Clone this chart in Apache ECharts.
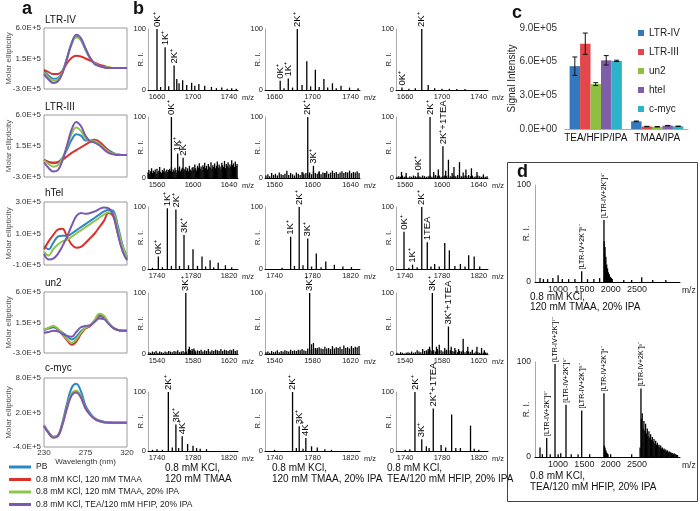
<!DOCTYPE html>
<html>
<head>
<meta charset="utf-8">
<script src="https://cdn.jsdelivr.net/npm/echarts@6/dist/echarts.min.js"></script>
<style>
  html, body { margin: 0; padding: 0; background: #fff; }
  #chart { width: 700px; height: 511px; }
</style>
</head>
<body>
<div id="chart"></div>
<script>
const FONT = "'Liberation Sans', Arial, sans-serif";

// ---------- a: CD spectra, molar ellipticity in units of 1E+5
const wavelengths = [230, 235, 240, 245, 250, 255, 260, 265, 270, 275, 280, 285, 290, 295, 300, 305, 310, 315, 320];
const cdConditions = ["PB", "0.8 mM KCl, 120 mM TMAA", "0.8 mM KCl, 120 mM TMAA, 20% IPA", "0.8 mM KCl, TEA/120 mM HFIP, 20% IPA"];
const cdColors = ["#2b87c6", "#d9322c", "#8cc64c", "#7c57b1"];
const cdTitles = ["LTR-IV", "LTR-III", "hTel", "un2", "c-myc"];
const cdYTicks = [[-3, 1.5, 6], [-3, 1.5, 6], [-1, 1, 3], [-3, 1.5, 6], [-4, 2, 8]];

// order: PB, TMAA, TMAA+IPA, HFIP
const cdLtr4 = [
  [-0.4, -1.0, -1.5, -1.4, -0.4, 1.6, 3.7, 4.7, 4.2, 2.8, 1.5, 0.7, 0.4, 0.2, 0.1, 0.1, 0.1, 0.1, 0.1],
  [-0.2, -0.5, -0.8, -0.8, -0.3, 0.8, 1.6, 1.9, 1.8, 1.5, 1.2, 0.9, 0.6, 0.4, 0.2, 0.1, 0.1, 0.1, 0.1],
  [-0.6, -1.3, -1.8, -1.6, -0.5, 1.5, 3.6, 4.6, 4.3, 2.9, 1.6, 0.8, 0.4, 0.2, 0.2, 0.1, 0.1, 0.1, 0.1],
  [-0.8, -1.6, -2.1, -1.9, -0.7, 1.5, 3.8, 5.0, 4.5, 3.0, 1.6, 0.7, 0.4, 0.2, 0.1, 0.1, 0.1, 0.1, 0.1]
];
const cdLtr3 = [
  [-0.5, -0.8, -1.0, -0.9, -0.2, 1.0, 2.4, 3.2, 3.0, 2.3, 2.3, 2.4, 2.0, 1.4, 0.9, 0.5, 0.3, 0.2, 0.2],
  [-0.5, -0.8, -0.9, -0.8, -0.5, 0.0, 0.5, 0.9, 1.3, 1.7, 2.1, 2.4, 2.1, 1.5, 0.8, 0.4, 0.2, 0.2, 0.2],
  [-0.6, -1.1, -1.5, -1.3, -0.3, 1.4, 3.3, 4.2, 3.7, 2.6, 2.2, 2.2, 1.8, 1.2, 0.7, 0.4, 0.3, 0.2, 0.2],
  [-0.9, -1.7, -2.2, -2.0, -0.6, 1.6, 3.9, 5.0, 4.4, 3.0, 2.2, 2.0, 1.6, 1.0, 0.5, 0.3, 0.2, 0.2, 0.2]
];
const cdHtel = [
  [0.2, 0.0, 0.4, 0.8, 0.85, 0.85, 1.0, 1.2, 1.4, 1.6, 1.8, 2.0, 2.2, 2.4, 2.5, 2.45, 1.5, 0.3, -0.5],
  [0.0, 0.5, 0.9, 1.25, 1.3, 0.8, 0.3, 0.1, 0.15, 0.4, 0.7, 1.0, 1.4, 1.8, 2.3, 2.1, 1.0, 0.0, -0.6],
  [-0.15, -0.4, 0.0, 0.3, 0.5, 0.6, 0.8, 1.0, 1.2, 1.4, 1.6, 1.8, 2.0, 2.2, 2.35, 2.3, 1.3, 0.2, -0.5],
  [-0.3, -0.65, -0.6, -0.3, 0.2, 0.8, 1.5, 2.1, 2.3, 2.25, 2.3, 2.4, 2.55, 2.65, 2.6, 2.2, 1.0, -0.1, -0.7]
];
const cdUn2 = [
  [0.4, 0.6, 0.8, 0.5, 0.0, -0.5, -1.0, -0.6, 0.2, 0.7, 1.0, 1.7, 2.4, 2.2, 1.4, 0.7, 0.4, 0.3, 0.3],
  [0.4, 0.7, 0.9, 0.5, -0.3, -1.1, -1.8, -1.3, -0.2, 0.6, 1.0, 1.8, 2.6, 2.4, 1.4, 0.7, 0.4, 0.3, 0.3],
  [0.4, 0.7, 1.0, 0.6, -0.2, -0.9, -1.5, -1.0, 0.0, 0.7, 1.1, 1.9, 2.8, 2.5, 1.5, 0.7, 0.4, 0.3, 0.3],
  [0.0, 0.1, 0.3, 0.2, -0.2, -0.5, -0.6, 0.1, 0.8, 1.0, 1.1, 1.6, 2.1, 2.0, 1.3, 0.7, 0.4, 0.3, 0.3]
];
const cdMyc = [
  [-0.2, -1.4, -2.2, -2.0, 0.3, 3.6, 6.3, 7.0, 5.7, 3.2, 1.9, 1.0, 0.6, 0.4, 0.3, 0.2, 0.2, 0.2, 0.2],
  [-0.3, -1.5, -2.3, -2.1, 0.0, 2.9, 5.1, 5.7, 4.8, 2.8, 1.7, 0.9, 0.5, 0.3, 0.3, 0.2, 0.2, 0.2, 0.2],
  [-0.3, -1.5, -2.3, -2.0, 0.1, 3.0, 5.3, 5.8, 4.8, 2.8, 1.7, 0.9, 0.5, 0.3, 0.3, 0.2, 0.2, 0.2, 0.2],
  [-0.4, -1.6, -2.4, -2.1, -0.1, 2.8, 5.0, 5.5, 4.6, 2.7, 1.6, 0.9, 0.5, 0.3, 0.2, 0.2, 0.2, 0.2, 0.2]
];

// ---------- b: mass spectra, [m/z, relative intensity, label]
const rowRanges = [[1650, 1750], [1550, 1650], [1730, 1830], [1530, 1630], [1730, 1830]];
const rowTicks = [[1660, 1700, 1740], [1560, 1600, 1640], [1740, 1780, 1820], [1540, 1580, 1620], [1740, 1780, 1820]];
const colCaptions = [["0.8 mM KCl,", "120 mM TMAA"], ["0.8 mM KCl,", "120 mM TMAA, 20% IPA"], ["0.8 mM KCl,", "TEA/120 mM HFIP, 20% IPA"]];

const msLtr4Tmaa = [[1660, 100, "0K⁺"], [1669, 70, "1K⁺"], [1679, 40, "2K⁺"], [1664, 5], [1673, 6], [1682, 18], [1684.5, 11], [1688.5, 16], [1693, 8], [1698.5, 12], [1702, 7], [1706.5, 10], [1713, 7], [1720.5, 5], [1726, 3], [1732, 4], [1738, 2], [1743, 3], [1748, 2]];
const msLtr4TmaaIpa = [[1666, 15, "0K⁺"], [1674.5, 19, "1K⁺"], [1684, 100, "2K⁺"], [1670, 3], [1679, 4], [1689, 8], [1694, 47], [1698, 6], [1703, 33], [1707, 5], [1712, 18], [1716, 4], [1721, 11], [1725, 3], [1730, 7], [1739, 4], [1748, 3]];
const msLtr4Hfip = [[1656.5, 4, "0K⁺"], [1678, 100, "2K⁺"], [1664, 2], [1671, 3], [1685, 8], [1692, 3], [1700, 2], [1708, 2], [1716, 1.5], [1725, 1.5]];

const msLtr3Tmaa = [[1576, 100, "0K⁺"], [1583, 40, "1K⁺"], [1589, 33, "2K⁺"]];
const msLtr3TmaaIpa = [[1595, 100, "2K⁺"], [1601, 20, "3K⁺"], [1590, 9], [1607, 11], [1613, 8]];
const msLtr3Hfip = [[1556, 10], [1561, 8], [1574, 9, "0K⁺"], [1587, 100, "2K⁺"], [1591, 10], [1596, 14], [1601, 52, "2K⁺+1TEA"], [1604, 12], [1607, 30], [1611, 8], [1613, 18], [1619, 26], [1623, 9], [1626, 14], [1632, 16], [1638, 10], [1645, 6]];

const msHtelTmaa = [[1741.5, 20, "0K⁺"], [1751.5, 98, "1K⁺"], [1761, 96, "2K⁺"], [1770, 55, "3K⁺"], [1780, 32], [1790, 20], [1799, 14], [1808, 10], [1816, 6], [1823, 3], [1746, 3], [1756, 5], [1765, 5], [1775, 6], [1785, 5], [1794, 4], [1803, 3], [1735, 2]];
const msHtelTmaaIpa = [[1757, 52, "1K⁺"], [1766, 100, "2K⁺"], [1775, 49, "3K⁺"], [1784, 25], [1794, 12], [1803, 7], [1812, 4], [1821, 3], [1748, 2], [1761, 5], [1770, 6], [1779, 4], [1789, 3]];
const msHtelHfip = [[1738.7, 60, "0K⁺"], [1748, 7, "1K⁺"], [1758, 100, "2K⁺"], [1764, 43, "1TEA"], [1753, 3], [1768, 4], [1772, 8], [1777, 4], [1783, 42], [1788, 30], [1794, 5], [1800, 8], [1805, 4], [1809, 22], [1815, 20], [1821, 4], [1744, 2]];

const msUn2Tmaa = [[1572, 100, "3K⁺"], [1576, 12], [1579, 8], [1582, 6]];
const msUn2TmaaIpa = [[1577, 100, "3K⁺"], [1581, 18], [1585, 10]];
const msUn2Hfip = [[1569.5, 100, "3K⁺"], [1587, 45, "3K⁺+1TEA"], [1565, 8], [1566.5, 12], [1574, 12], [1577, 15], [1583, 10], [1590, 12], [1594, 10], [1598, 8], [1603, 25], [1608, 12], [1613, 7], [1618, 12], [1623, 10], [1626, 6]];

const msMycTmaa = [[1752.6, 100, "2K⁺"], [1761, 45, "3K⁺"], [1768, 25, "4K⁺"], [1774, 12], [1780, 9], [1784, 5], [1788, 4], [1795, 3], [1757, 6], [1764, 5], [1740, 3], [1746, 2], [1735, 2]];
const msMycTmaaIpa = [[1759, 100, "2K⁺"], [1766, 42, "3K⁺"], [1773, 22, "4K⁺"], [1779, 8], [1785, 6], [1793, 3], [1763, 5], [1770, 4], [1800, 2], [1740, 2]];
const msMycHfip = [[1750.6, 100, "2K⁺"], [1758, 20, "3K⁺"], [1770.5, 72, "2K⁺+1TEA"], [1763, 8], [1766, 5], [1779, 10], [1784, 6], [1790.5, 62], [1795, 5], [1800, 5], [1811, 43], [1815, 4], [1745, 3], [1740, 2], [1820, 2]];

// baseline noise, regularly sampled spectra
const noiseLtr3Tmaa = { start: 1550, step: 1, h: [
  9, 13, 7, 11, 16, 8, 12, 10, 14, 7, 15, 9, 12, 18, 10, 8, 13, 11, 16, 9, 12, 14, 10, 13,
  15, 12, 18, 10, 14, 11, 17, 13, 9, 16, 12, 19, 11, 14, 17, 10, 15, 13, 18, 12, 16, 11, 20, 14, 12, 17,
  18, 14, 22, 16, 12, 20, 17, 24, 15, 19, 13, 21, 18, 25, 16, 20, 14, 23, 19, 17, 26, 15, 21, 18, 24,
  16, 20, 27, 17, 22, 19, 15, 25, 21, 18, 28, 16, 23, 20, 26, 17, 22, 19, 29, 21, 24, 18, 27, 20, 23] };
const noiseLtr3TmaaIpa = { start: 1551, step: 2, h: [4, 6, 3, 8, 5, 7, 4, 9, 6, 5, 7, 12, 5, 8, 6, 4, 9, 7, 5, 10, 6, 8, 7, 9, 6, 11, 8, 7, 10, 6, 9, 8, 11, 7, 9, 12, 8, 10, 7, 9, 11, 8, 10, 9, 12, 8, 10, 9, 11, 8] };
const noiseLtr3Hfip = { start: 1551, step: 2, h: [2, 3, 2, 4, 2, 3, 1, 3, 2, 4, 3, 2, 3, 2, 4, 3, 2, 3, 4, 2, 3, 5, 3, 4, 2, 3, 4, 3, 5, 3, 2, 4, 3, 5, 4, 3, 2, 4, 3, 5, 3, 4, 2, 3, 4, 3, 2, 3, 2, 3] };
const noiseUn2Tmaa = { start: 1531, step: 2, h: [3, 2, 4, 3, 5, 2, 4, 3, 2, 4, 3, 5, 4, 3, 5, 4, 6, 3, 4, 5, 3, 4, 8, 6, 5, 9, 4, 6, 5, 7, 4, 6, 5, 8, 4, 6, 5, 7, 6, 5, 8, 5, 7, 6, 5, 7, 6, 8, 5, 6] };
const noiseUn2TmaaIpa = { start: 1531, step: 2, h: [3, 4, 2, 5, 3, 4, 6, 3, 5, 4, 6, 5, 4, 7, 5, 6, 5, 7, 6, 8, 6, 5, 9, 7, 16, 8, 10, 7, 11, 9, 8, 12, 9, 10, 8, 13, 9, 11, 10, 12, 8, 14, 10, 11, 9, 13, 10, 12, 11, 13] };
const noiseUn2Hfip = { start: 1531, step: 2, h: [2, 1, 3, 2, 1, 2, 3, 2, 4, 2, 3, 6, 4, 3, 8, 5, 6, 4, 7, 5, 6, 4, 8, 5, 6, 4, 5, 7, 4, 6, 5, 4, 6, 3, 5, 4, 6, 3, 5, 4, 3, 5, 2, 4, 3, 2, 3, 2, 3, 2] };

// ---------- c: signal intensity
const solventGroups = ["TEA/HFIP/IPA", "TMAA/IPA"];
const sequences = ["LTR-IV", "LTR-III", "un2", "htel", "c-myc"];
const seqColors = ["#3479bd", "#e2474c", "#8dbf42", "#7e5ea9", "#2db3c9"];
const signalLtr4 = [5.6e5, 0.68e5], errLtr4 = [0.82e5, 0.03e5];
const signalLtr3 = [7.6e5, 0.22e5], errLtr3 = [0.95e5, 0.02e5];
const signalUn2 = [4.0e5, 0.2e5], errUn2 = [0.13e5, 0.02e5];
const signalHtel = [6.12e5, 0.3e5], errHtel = [0.42e5, 0.02e5];
const signalMyc = [6.07e5, 0.24e5], errMyc = [0.06e5, 0.02e5];

// ---------- d: full-range spectra of LTR-IV
const dAxisTicks = [1000, 1500, 2000, 2500];
const dTmaaIpa = [[655, 4], [720, 3], [800, 3], [900, 4], [1000, 7], [1080, 3], [1200, 3], [1320, 3], [1449, 11, "[LTR-IV+2K⁺]⁵⁻"], [1560, 3], [1680, 3], [1790, 4], [1873, 64, "[LTR-IV+2K⁺]⁴⁻"], [2250, 2], [2400, 2], [2591, 5], [2800, 2], [3050, 2]];
const dTmaaIpaCluster = { start: 1877, step: 8, h: [42, 30, 36, 22, 26, 15, 18, 12, 14, 9, 10, 7, 8, 6, 5, 5, 4, 4, 3, 3] };
const dHfipIpa = [[655, 10], [700, 3], [783, 20, "[LTR-IV+2K⁺]⁸⁻"], [850, 3], [941, 98, "[LTR-IV+2K⁺]⁷⁻"], [1000, 3], [1050, 4], [1150, 55, "[LTR-IV+2K⁺]⁶⁻"], [1250, 3], [1380, 3], [1449, 49, "[LTR-IV+2K⁺]⁵⁻"], [1600, 3], [1873, 67, "[LTR-IV+2K⁺]⁴⁻"], [2000, 3], [2400, 3], [2560, 10], [2577, 72, "[LTR-IV+2K⁺]³⁻"]];
const dHfipIpaCluster = { start: 1877, step: 8, h: [12, 8, 10, 6, 7, 5, 4, 4, 3, 3] };
const dHfipIpaTail = { start: 2585, step: 16, h: [40, 46, 30, 38, 28, 35, 25, 30, 22, 27, 20, 24, 18, 21, 16, 19, 14, 17, 13, 15, 12, 13, 10, 12, 9, 10, 8, 9, 7, 8, 6, 7, 5, 6, 5, 5, 4, 4, 3, 4, 3, 3, 2, 2] };

// ---------- build
const chart = echarts.init(document.getElementById("chart"));
const grids = [], xAxes = [], yAxes = [], series = [], graphics = [];
const plain = v => String(v);

function addGrid(b, extra) {
  grids.push(Object.assign({ left: b[0], top: b[1], width: b[2], height: b[3], containLabel: false, outerBoundsMode: "none" }, extra || {}));
  return grids.length - 1;
}
function txt(x, y, s, size, opts) {
  graphics.push({
    type: "text", x: x, y: y, silent: true,
    style: Object.assign({ text: s, fontSize: size, fontFamily: FONT, fill: "#111", align: "left", verticalAlign: "middle" }, opts || {})
  });
}
function noisePoints(n) {
  return n ? n.h.map((h, i) => [n.start + i * n.step, h]) : [];
}
function peakData(peaks, noises) {
  let data = [];
  noises.forEach(n => { data = data.concat(noisePoints(n)); });
  peaks.forEach(p => {
    data.push(p[2] ? { value: [p[0], p[1]], label: { show: true, formatter: p[2] } } : [p[0], p[1]]);
  });
  return data;
}
function spectrumSeries(g, data, labelSize) {
  series.push({
    type: "bar", xAxisIndex: g, yAxisIndex: g, barWidth: 1.3, silent: true,
    itemStyle: { color: "#000" },
    label: { show: false, position: "top", rotate: 90, align: "left", verticalAlign: "middle", distance: 2, fontSize: labelSize, fontFamily: FONT, color: "#000" },
    data: data
  });
}

// a
const aBoxes = [[44, 28, 83, 61], [44, 115, 83, 62], [44, 202, 83, 63], [44, 292, 83, 61], [44, 378, 83, 69]];
const aTitleY = [20, 107, 193, 283, 368];
[cdLtr4, cdLtr3, cdHtel, cdUn2, cdMyc].forEach((curves, p) => {
  const g = addGrid(aBoxes[p], { show: true, borderColor: "#9a9a9a", borderWidth: 1 });
  const last = p === 4;
  xAxes.push({
    type: "value", gridIndex: g, min: 230, max: 320,
    axisLine: { show: false }, axisTick: { show: false }, splitLine: { show: false },
    axisLabel: { show: last, customValues: [230, 275, 320], formatter: plain, fontSize: 8, color: "#333", margin: 2 },
    name: last ? "Wavelength (nm)" : "", nameLocation: "middle", nameGap: 8,
    nameTextStyle: { fontSize: 8, color: "#333" }
  });
  yAxes.push({
    type: "value", gridIndex: g, min: cdYTicks[p][0], max: cdYTicks[p][2],
    axisLine: { show: false }, axisTick: { show: false }, splitLine: { show: false },
    axisLabel: { customValues: cdYTicks[p], formatter: v => v.toFixed(1) + "E+5", fontSize: 8, color: "#333", margin: 3 },
    name: "Molar ellipticity", nameLocation: "middle", nameGap: 31, nameMoveOverlap: false,
    nameTextStyle: { fontSize: 8, color: "#555" }
  });
  curves.forEach((vals, c) => {
    series.push({
      type: "line", name: cdConditions[c], xAxisIndex: g, yAxisIndex: g,
      smooth: 0.4, symbol: "none", silent: true, z: 2 + c,
      lineStyle: { color: cdColors[c], width: 2 }, itemStyle: { color: cdColors[c] },
      data: wavelengths.map((w, i) => [w, vals[i]])
    });
  });
  txt(45, aTitleY[p], cdTitles[p], 10);
});

// b
const bCols = [[148, 90], [265, 95], [396, 92]];
const bRows = [[29, 61], [117, 61], [207, 62], [293, 61], [392, 59]];
const bSpectra = [
  [msLtr4Tmaa, msLtr4TmaaIpa, msLtr4Hfip],
  [msLtr3Tmaa, msLtr3TmaaIpa, msLtr3Hfip],
  [msHtelTmaa, msHtelTmaaIpa, msHtelHfip],
  [msUn2Tmaa, msUn2TmaaIpa, msUn2Hfip],
  [msMycTmaa, msMycTmaaIpa, msMycHfip]
];
const bNoise = [
  [null, null, null],
  [noiseLtr3Tmaa, noiseLtr3TmaaIpa, noiseLtr3Hfip],
  [null, null, null],
  [noiseUn2Tmaa, noiseUn2TmaaIpa, noiseUn2Hfip],
  [null, null, null]
];
bSpectra.forEach((row, r) => {
  row.forEach((peaks, c) => {
    const g = addGrid([bCols[c][0], bRows[r][0], bCols[c][1], bRows[r][1]]);
    xAxes.push({
      type: "value", gridIndex: g, min: rowRanges[r][0], max: rowRanges[r][1],
      axisLine: { show: true, onZero: false, lineStyle: { color: "#000", width: 1 } },
      axisTick: { show: false }, splitLine: { show: false },
      axisLabel: { customValues: rowTicks[r], formatter: plain, fontSize: 7.5, color: "#222", margin: 3 },
      name: "m/z", nameLocation: "end", nameGap: 4,
      nameTextStyle: { fontSize: 7.5, color: "#222", verticalAlign: "top", padding: [4, 0, 0, 0] }
    });
    yAxes.push({
      type: "value", gridIndex: g, min: 0, max: 100,
      axisLine: { show: true, onZero: false, lineStyle: { color: "#aaa", width: 1 } },
      axisTick: { show: false }, splitLine: { show: false },
      axisLabel: { customValues: [0, 100], formatter: plain, fontSize: 7.5, color: "#222", margin: 2 },
      name: "R. I.", nameLocation: "middle", nameGap: 3, nameMoveOverlap: false,
      nameTextStyle: { fontSize: 8, color: "#333" }
    });
    spectrumSeries(g, peakData(peaks, [bNoise[r][c]]), 9.5);
  });
});
const capX = [165, 272, 387];
colCaptions.forEach((lines, c) => {
  txt(capX[c], 468, lines[0], 10);
  txt(capX[c], 479, lines[1], 10);
});

// c
const gc = addGrid([565, 28, 123, 101]);
xAxes.push({
  type: "category", gridIndex: gc, data: solventGroups,
  axisLine: { show: true, lineStyle: { color: "#aaa" } }, axisTick: { show: false },
  axisLabel: { interval: 0, hideOverlap: false, fontSize: 10, color: "#111", margin: 4 }
});
yAxes.push({
  type: "value", gridIndex: gc, min: 0, max: 9e5,
  axisLine: { show: false }, axisTick: { show: false }, splitLine: { show: false },
  axisLabel: { customValues: [0, 3e5, 6e5, 9e5], formatter: v => v === 0 ? "0.0E+00" : (v / 1e5).toFixed(1) + "E+05", fontSize: 10, color: "#333", margin: 8 },
  name: "Signal Intensity", nameLocation: "middle", nameGap: 48, nameMoveOverlap: false,
  nameTextStyle: { fontSize: 10, color: "#222" }
});
const signals = [signalLtr4, signalLtr3, signalUn2, signalHtel, signalMyc];
const errors = [errLtr4, errLtr3, errUn2, errHtel, errMyc];
signals.forEach((vals, s) => {
  series.push({
    type: "bar", name: sequences[s], xAxisIndex: gc, yAxisIndex: gc,
    barWidth: "17%", barGap: "0%", silent: true,
    itemStyle: { color: seqColors[s] }, data: vals
  });
});
const errData = [];
signals.forEach((vals, s) => vals.forEach((v, ci) => errData.push([ci, s, v, errors[s][ci]])));
series.push({
  type: "custom", xAxisIndex: gc, yAxisIndex: gc, silent: true, z: 5,
  encode: { x: 0, y: 2 },
  data: errData,
  renderItem: (params, api) => {
    const ci = api.value(0), si = api.value(1), v = api.value(2), e = api.value(3);
    const bw = api.size([1, 0])[0] * 0.17;
    const x = api.coord([ci, 0])[0] + (si - 2) * bw;
    const y1 = api.coord([ci, v + e])[1], y2 = api.coord([ci, v - e])[1];
    const st = { stroke: "#111", lineWidth: 1 };
    return {
      type: "group", children: [
        { type: "line", shape: { x1: x, y1: y1, x2: x, y2: y2 }, style: st },
        { type: "line", shape: { x1: x - 2.5, y1: y1, x2: x + 2.5, y2: y1 }, style: st },
        { type: "line", shape: { x1: x - 2.5, y1: y2, x2: x + 2.5, y2: y2 }, style: st }
      ]
    };
  }
});

// d
const dBoxes = [[535, 185, 145, 97], [535, 362, 145, 95]];
const dSpectra = [peakData(dTmaaIpa, [dTmaaIpaCluster]), peakData(dHfipIpa, [dHfipIpaCluster, dHfipIpaTail])];
dSpectra.forEach((data, k) => {
  const g = addGrid(dBoxes[k]);
  xAxes.push({
    type: "value", gridIndex: g, min: 560, max: 3320,
    axisLine: { show: true, onZero: false, lineStyle: { color: "#000", width: 1 } },
    axisTick: { show: false }, splitLine: { show: false },
    axisLabel: { customValues: dAxisTicks, formatter: plain, fontSize: 9, color: "#222", margin: 3 },
    name: "m/z", nameLocation: "end", nameGap: 2,
    nameTextStyle: { fontSize: 8.5, color: "#222", verticalAlign: "top", padding: [4, 0, 0, 0] }
  });
  yAxes.push({
    type: "value", gridIndex: g, min: 0, max: 100,
    axisLine: { show: true, onZero: false, lineStyle: { color: "#aaa", width: 1 } },
    axisTick: { show: false }, splitLine: { show: false },
    axisLabel: { customValues: [0, 100], formatter: plain, fontSize: 8.5, color: "#222", margin: 4 },
    name: "R. I.", nameLocation: "middle", nameGap: 4, nameMoveOverlap: false,
    nameTextStyle: { fontSize: 8.5, color: "#333" }
  });
  spectrumSeries(g, data, 7);
});
graphics.push({ type: "rect", silent: true, shape: { x: 507.5, y: 162.5, width: 190, height: 339 }, style: { fill: "none", stroke: "#444", lineWidth: 1 } });
txt(530, 297, "0.8 mM KCl,", 10);
txt(530, 307, "120 mM TMAA, 20% IPA", 10);
txt(530, 476, "0.8 mM KCl,", 10);
txt(530, 487, "TEA/120 mM HFIP, 20% IPA", 10);

// panel letters
txt(22, 9, "a", 18, { fontWeight: "bold" });
txt(133, 9, "b", 18, { fontWeight: "bold" });
txt(512, 13, "c", 18, { fontWeight: "bold" });
txt(517, 172, "d", 18, { fontWeight: "bold" });

chart.setOption({
  animation: false,
  textStyle: { fontFamily: FONT },
  grid: grids,
  xAxis: xAxes,
  yAxis: yAxes,
  legend: [
    {
      data: cdConditions, left: 9, top: 462, orient: "vertical", padding: 0,
      itemGap: 2.5, itemWidth: 22, itemHeight: 3, icon: "rect", selectedMode: false,
      textStyle: { fontSize: 8.5, color: "#222", lineHeight: 10 }
    },
    {
      data: sequences, left: 638, top: 27, orient: "vertical", padding: 0,
      itemGap: 7, itemWidth: 6, itemHeight: 6, icon: "rect", selectedMode: false,
      textStyle: { fontSize: 10, color: "#222", lineHeight: 12 }
    }
  ],
  series: series,
  graphic: graphics
});
</script>
</body>
</html>
